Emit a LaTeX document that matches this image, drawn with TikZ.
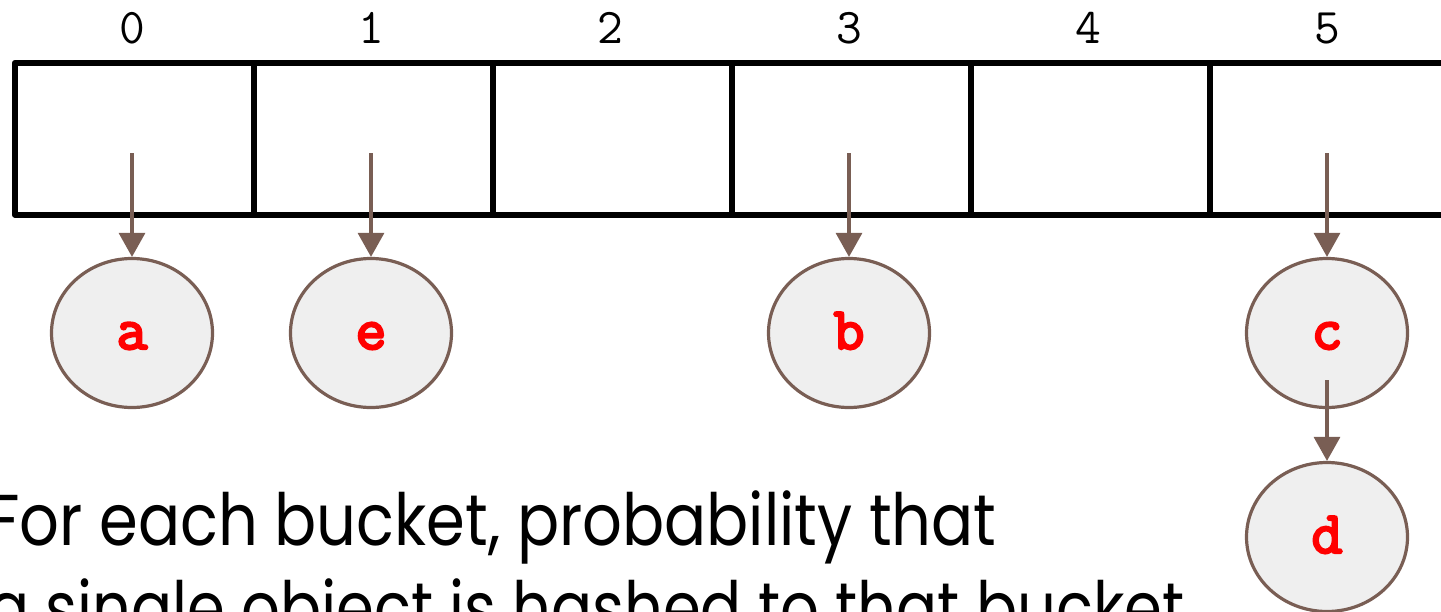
\documentclass[tikz,border=0pt]{standalone}
\usepackage{fontspec}
\setmainfont{Poppins}
\newfontfamily\keyfont{Latin Modern Mono}[FakeBold=4]
\usetikzlibrary{shapes.geometric,arrows.meta}
\definecolor{linkbrown}{HTML}{795E54}
\definecolor{keyfill}{HTML}{EFEFEF}
\definecolor{keyred}{HTML}{FF0000}
\newcommand{\capline}[2]{\scalebox{#1}[1]{#2}}
\tikzset{
  bucket/.style={draw=black,line width=5.5pt,line join=round,minimum width=239pt,minimum height=152pt,inner sep=0pt,anchor=north west},
  idx/.style={font=\ttfamily\fontsize{50}{54}\selectfont,inner sep=0pt,anchor=base},
  keynode/.style={ellipse,draw=linkbrown,fill=keyfill,line width=3.2pt,minimum width=161pt,minimum height=149pt,inner sep=0pt,
    font=\keyfont\fontsize{60}{64}\selectfont,text=keyred,text height=32pt,text depth=0pt},
  link/.style={draw=linkbrown,line width=3.2pt,-{Triangle[width=26pt,length=24pt]}},
  caption/.style={anchor=base west,inner sep=0pt,font=\fontsize{72}{88}\selectfont},
}
\begin{document}
\begin{tikzpicture}[x=1pt,y=-1pt]
\useasboundingbox (0,0) rectangle (1441,611);
\clip (0,0) rectangle (1441,611);
% hash table buckets with their indices
\foreach \i in {0,...,5}{
  \node[bucket] (c\i) at ({12+239*\i},60) {};
  \node[idx] (i\i) at ({132+239*\i},43) {\i};
}
% keys stored in the buckets
\node[keynode] (na) at (132,333) {a};
\node[keynode] (ne) at (371,333) {e};
\node[keynode] (nb) at (849,333) {b};
\node[keynode] (nc) at (1327,333) {c};
\node[keynode] (nd) at (1327,537) {d};
% pointer origins inside the buckets
\coordinate (p0) at (132,153);
\coordinate (p1) at (371,153);
\coordinate (p3) at (849,153);
\coordinate (p5) at (1327,153);
\coordinate (pc) at (1327,380);
\draw[link] (p0) -- (na.north);
\draw[link] (p1) -- (ne.north);
\draw[link] (p3) -- (nb.north);
\draw[link] (p5) -- (nc.north);
\draw[link] (pc) -- (nd.north);
% caption
\node[caption] (cap1) at (-12,545) {\capline{0.866}{For each bucket, probability that}};
\node[caption] (cap2) at (-12,633) {\capline{0.845}{a single object is hashed to that bucket}};
\end{tikzpicture}
\end{document}
